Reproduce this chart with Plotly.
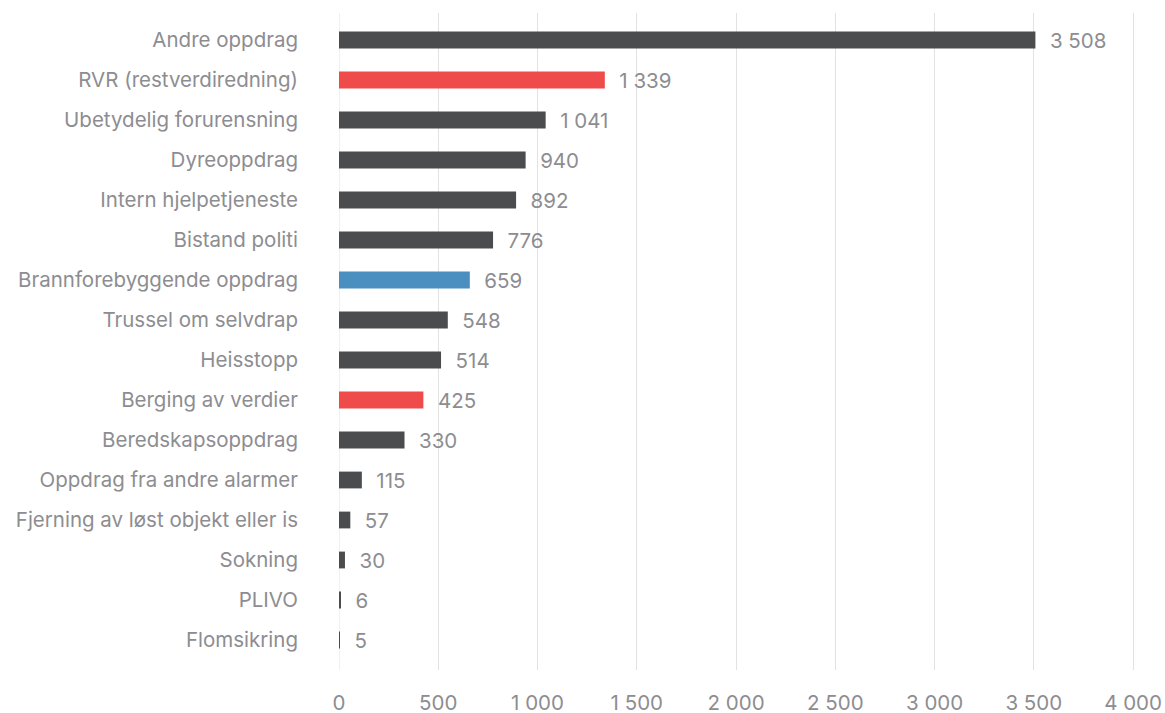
import plotly.graph_objects as go

categories = [
    "Andre oppdrag",
    "RVR (restverdiredning)",
    "Ubetydelig forurensning",
    "Dyreoppdrag",
    "Intern hjelpetjeneste",
    "Bistand politi",
    "Brannforebyggende oppdrag",
    "Trussel om selvdrap",
    "Heisstopp",
    "Berging av verdier",
    "Beredskapsoppdrag",
    "Oppdrag fra andre alarmer",
    "Fjerning av løst objekt eller is",
    "Sokning",
    "PLIVO",
    "Flomsikring",
]
counts = [3508, 1339, 1041, 940, 892, 776, 659, 548, 514, 425, 330, 115, 57, 30, 6, 5]

DARK = "#4b4c4e"
RED = "#ef4b4b"
BLUE = "#4a8fbf"
highlight = {
    "RVR (restverdiredning)": RED,
    "Berging av verdier": RED,
    "Brannforebyggende oppdrag": BLUE,
}
bar_colors = [highlight.get(c, DARK) for c in categories]

TEXT_GRAY = "#8d8d91"
FONT = "Inter, Roboto, sans-serif"
FS = 20.5

fig = go.Figure(
    go.Bar(
        x=counts,
        y=categories,
        orientation="h",
        marker=dict(color=bar_colors, line=dict(width=0)),
        texttemplate="  %{x:,}",
        textposition="outside",
        constraintext="none",
        textfont=dict(color=TEXT_GRAY, size=FS, family=FONT),
        cliponaxis=False,
        width=0.42,
    )
)

fig.update_layout(
    width=1165,
    height=713,
    margin=dict(l=339, r=22, t=13, b=43),
    paper_bgcolor="white",
    plot_bgcolor="white",
    separators=", ",
    showlegend=False,
    font=dict(family=FONT, color=TEXT_GRAY, size=FS),
    xaxis=dict(
        range=[0, 4050],
        tickvals=[0, 500, 1000, 1500, 2000, 2500, 3000, 3500, 4000],
        tickformat=",",
        showgrid=True,
        gridcolor="#e2e2e2",
        gridwidth=1,
        zeroline=False,
        showline=False,
        ticks="",
        ticklabelstandoff=18,
        ticklabeloverflow="allow",
        tickfont=dict(size=FS, color=TEXT_GRAY, family=FONT),
        automargin=False,
        fixedrange=True,
    ),
    yaxis=dict(
        categoryorder="array",
        categoryarray=categories,
        range=[15.75, -0.675],
        showgrid=False,
        zeroline=False,
        showline=False,
        ticks="",
        ticklabelstandoff=40,
        tickfont=dict(size=FS, color=TEXT_GRAY, family=FONT),
        automargin=False,
        fixedrange=True,
    ),
)

# first gridline at zero drawn explicitly since zeroline is off
fig.add_shape(
    type="line", xref="x", yref="paper", x0=0, x1=0, y0=0, y1=1,
    line=dict(color="#e2e2e2", width=1), layer="below",
)

fig.write_html("out.html")
